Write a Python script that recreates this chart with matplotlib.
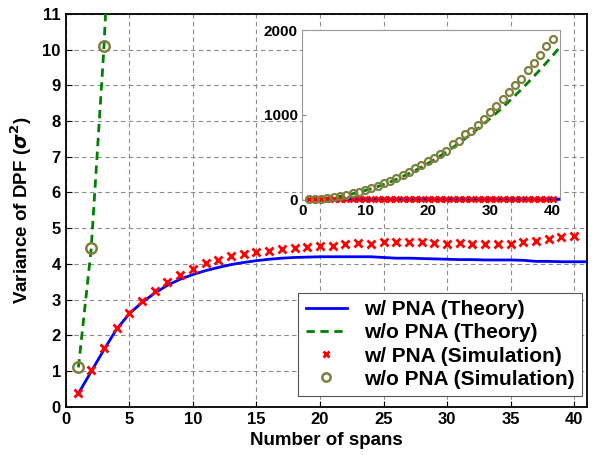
import matplotlib
matplotlib.use('Agg')
import matplotlib.pyplot as plt
import numpy as np

plt.rcParams['font.family'] = ['Liberation Sans', 'DejaVu Sans']
plt.rcParams['font.weight'] = 'bold'
plt.rcParams['mathtext.fontset'] = 'dejavusans'

# spans
spans_sim = list(range(1, 41))
spans_theory = list(range(1, 42))

# w/ PNA
pna_theory = [0.37, 0.98, 1.59, 2.17, 2.60, 2.92, 3.18, 3.40, 3.57, 3.70,
              3.81, 3.90, 3.98, 4.04, 4.09, 4.13, 4.16, 4.18, 4.19, 4.20,
              4.20, 4.20, 4.20, 4.20, 4.18, 4.16, 4.16, 4.15, 4.14, 4.13,
              4.12, 4.12, 4.11, 4.11, 4.11, 4.10, 4.07, 4.07, 4.06, 4.06, 4.06]
pna_sim = [0.37, 1.03, 1.65, 2.20, 2.63, 2.96, 3.25, 3.50, 3.70, 3.85,
           4.02, 4.11, 4.21, 4.27, 4.32, 4.35, 4.43, 4.44, 4.46, 4.50,
           4.50, 4.55, 4.58, 4.56, 4.60, 4.62, 4.62, 4.62, 4.59, 4.57,
           4.59, 4.56, 4.56, 4.56, 4.55, 4.60, 4.65, 4.69, 4.74, 4.79]

# w/o PNA
nopna_theory = [1.1, 4.4, 10.0, 17.4, 27, 38.5, 52, 68, 86, 106,
                128, 152, 179, 207, 238, 271, 306, 343, 382, 424,
                467, 513, 561, 611, 663, 717, 773, 832, 892, 955,
                1019, 1086, 1155, 1226, 1299, 1374, 1452, 1531, 1613, 1696, 1782]
nopna_sim = [1.1, 4.45, 10.1, 18, 28, 40, 55, 72, 91, 112,
             136, 162, 192, 222, 250, 290, 330, 370, 405, 452,
             486, 540, 574, 650, 692, 770, 812, 885, 955, 1027,
             1108, 1187, 1267, 1347, 1427, 1528, 1615, 1703, 1807, 1895]

labels = ["w/ PNA (Theory)", "w/o PNA (Theory)", "w/ PNA (Simulation)", "w/o PNA (Simulation)"]
c_blue = '#0000ff'
c_green = '#008000'
c_red = '#ff0000'
c_olive = '#7f7f3f'

fig = plt.figure(figsize=(5.95, 4.55), dpi=100)
ax = fig.add_axes([0.1104, 0.1062, 0.876, 0.8630])

ax.plot(spans_theory, pna_theory, color=c_blue, lw=2, label=labels[0], zorder=3)
ax.plot(spans_theory, nopna_theory, color=c_green, lw=2, ls=(0, (3, 2)), label=labels[1], zorder=3)
ax.plot(spans_sim, pna_sim, ls='none', marker='x', color=c_red, ms=6, mew=2, label=labels[2], zorder=4)
ax.plot(spans_sim, nopna_sim, ls='none', marker='o', mfc='none', mec=c_olive, ms=7.5, mew=1.8,
        label=labels[3], zorder=4)

ax.set_xlim(0, 41)
ax.set_ylim(0, 11)
ax.set_xticks(np.arange(0, 41, 5))
ax.set_yticks(np.arange(0, 12, 1))
ax.grid(True, ls=(0, (4, 3)), color='#8c8c8c', lw=0.8)
ax.tick_params(direction='in', length=4, labelsize=12)
for sp in ax.spines.values():
    sp.set_linewidth(1.3)
ax.set_xlabel("Number of spans", fontsize=13.5, fontweight='bold', labelpad=4)
ax.set_ylabel(r"Variance of DPF ($\sigma^2$)", fontsize=13.5, fontweight='bold', labelpad=6)

leg = ax.legend(loc='lower right', bbox_to_anchor=(0.9904, 0.027), borderaxespad=0, fontsize=15,
                fancybox=False, framealpha=1, edgecolor='#555555', handlelength=2.0,
                labelspacing=0.2, borderpad=0.35, handletextpad=0.8, markerscale=0.8)
leg.get_frame().set_linewidth(0.8)
for t in leg.get_texts():
    t.set_fontweight('bold')

# inset
ins = fig.add_axes([0.5084, 0.5615, 0.4328, 0.3725])
ins.plot(spans_theory, pna_theory, color=c_blue, lw=2, zorder=3, clip_on=False)
ins.plot(spans_theory, nopna_theory, color=c_green, lw=2, ls=(0, (3, 2)), zorder=3)
ins.plot(spans_sim, pna_sim, ls='none', marker='x', color=c_red, ms=4, mew=1.8, zorder=4, clip_on=False)
ins.plot(spans_sim, nopna_sim, ls='none', marker='o', mfc='none', mec=c_olive, ms=5, mew=1.6,
         zorder=5, clip_on=False)
ins.set_xlim(0, 41.2)
ins.set_ylim(0, 2000)
ins.set_xticks([0, 10, 20, 30, 40])
ins.set_yticks([0, 1000, 2000])
ins.tick_params(direction='in', length=3, labelsize=11, color='#888888')
for sp in ins.spines.values():
    sp.set_color('#999999')
    sp.set_linewidth(0.8)

fig.savefig('out.png', dpi=100)
